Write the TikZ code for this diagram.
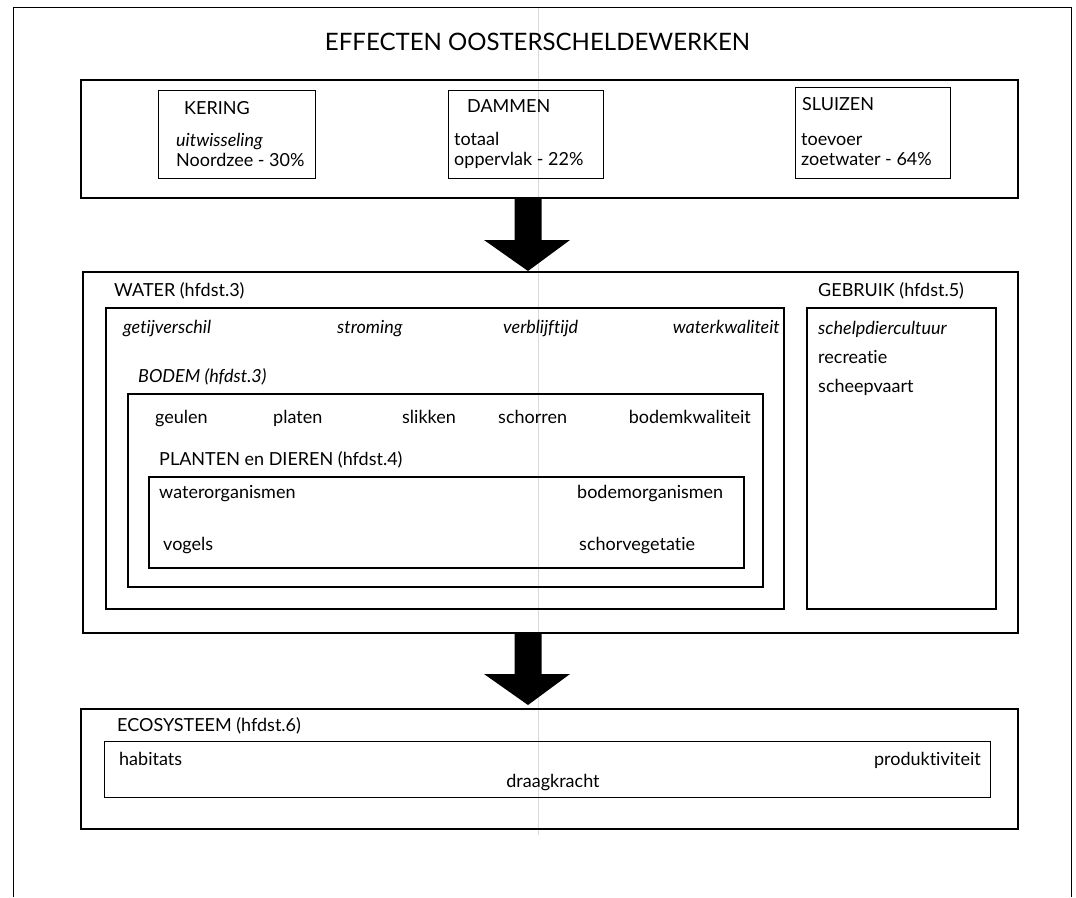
\documentclass[tikz,border=0pt]{standalone}
\usepackage{fontspec}
\setmainfont[Ligatures={NoCommon,NoRare,NoDiscretionary}]{Lato}
\usetikzlibrary{calc}
\begin{document}
\begin{tikzpicture}[x=1pt,y=-1pt,
  frameline/.style={line width=0.8pt},
  bigbox/.style={draw, line width=2pt, inner sep=0pt, anchor=north west},
  nestbox/.style={draw, line width=2.4pt, inner sep=0pt, anchor=north west},
  smallbox/.style={draw, line width=1.2pt, inner sep=0pt, anchor=north west},
  lbl/.style={anchor=base west, inner sep=0pt, font=\fontsize{18}{21}\selectfont},
  ilbl/.style={lbl, font=\fontsize{18}{21}\selectfont\itshape},
  ttl/.style={anchor=base, inner sep=0pt, font=\fontsize{24}{28}\selectfont},
  blockarrow/.style={fill=black}
]
\useasboundingbox (0,0) rectangle (1076,897);
% outer frame (open at bottom)
\coordinate (fbl) at (13,897);
\coordinate (ftl) at (13,7);
\coordinate (ftr) at (1071,7);
\coordinate (fbr) at (1071,897);
\draw[frameline] (fbl) -- (ftl) -- (ftr) -- (fbr);
% faint scan line
\coordinate (sa) at (538,8);
\coordinate (sb) at (538,835);
\draw[gray!30, line width=0.5pt] (sa) -- (sb);

\node[ttl] (title) at (537.5,50) {EFFECTEN OOSTERSCHELDEWERKEN};

% top box
\node[bigbox, minimum width=937, minimum height=118] (top) at (80,79) {};
\node[smallbox, minimum width=157, minimum height=88] (kering) at (158,90) {};
\node[smallbox, minimum width=155, minimum height=88] (dammen) at (448,90) {};
\node[smallbox, minimum width=155, minimum height=91] (sluizen) at (795,87) {};
\node[lbl] (t1) at (184,114) {KERING};
\node[ilbl] (t2) at (176,146) {uitwisseling};
\node[lbl] (t3) at (176,166) {Noordzee - 30\%};
\node[lbl] (t4) at (467,112) {DAMMEN};
\node[lbl] (t5) at (454,145) {totaal};
\node[lbl] (t6) at (454,165) {oppervlak - 22\%};
\node[lbl] (t7) at (802,110) {SLUIZEN};
\node[lbl] (t8) at (801,145) {toevoer};
\node[lbl] (t9) at (801,165) {zoetwater - 64\%};

% middle box
\node[bigbox, minimum width=935, minimum height=361] (mid) at (82,271) {};
\node[lbl] (wlab) at (114,296) {WATER (hfdst.3)};
\node[nestbox, minimum width=678, minimum height=301] (water) at (105,307) {};
\node[ilbl] (w1) at (123,333) {getijverschil};
\node[ilbl] (w2) at (337,333) {stroming};
\node[ilbl] (w3) at (503,333) {verblijftijd};
\node[ilbl, anchor=base east] (w4) at (780,333) {waterkwaliteit};
\node[ilbl] (blab) at (138,382) {BODEM (hfdst.3)};
\node[nestbox, minimum width=635, minimum height=193] (bodem) at (127,393) {};
\node[lbl] (b1) at (155,423) {geulen};
\node[lbl] (b2) at (273,423) {platen};
\node[lbl] (b3) at (402,423) {slikken};
\node[lbl] (b4) at (498,423) {schorren};
\node[lbl, anchor=base east] (b5) at (751,423) {bodemkwaliteit};
\node[lbl] (plab) at (159,465) {PLANTEN en DIEREN (hfdst.4)};
\node[nestbox, minimum width=595, minimum height=91] (planten) at (148,476) {};
\node[lbl] (p1) at (159,498) {waterorganismen};
\node[lbl] (p2) at (577,498) {bodemorganismen};
\node[lbl] (p3) at (163,550) {vogels};
\node[lbl] (p4) at (579,550) {schorvegetatie};
\node[lbl] (glab) at (818,296) {GEBRUIK (hfdst.5)};
\node[nestbox, minimum width=189, minimum height=301] (gebruik) at (806,307) {};
\node[ilbl] (g1) at (818,334) {schelpdiercultuur};
\node[lbl] (g2) at (818,363) {recreatie};
\node[lbl] (g3) at (818,392) {scheepvaart};

% bottom box
\node[bigbox, minimum width=937, minimum height=120] (eco) at (80,708) {};
\node[lbl] (elab) at (117,731) {ECOSYSTEEM (hfdst.6)};
\node[smallbox, minimum width=886, minimum height=56] (ecoin) at (104,741) {};
\node[lbl] (e1) at (119,765) {habitats};
\node[lbl, anchor=base east] (e2) at (981,765) {produktiviteit};
\node[lbl, anchor=base] (e3) at (553,787) {draagkracht};

% block arrows
\coordinate (ax) at (528,0);
\coordinate (a1s) at (top.south -| ax);
\coordinate (a1t) at (mid.north -| ax);
\fill[blockarrow] ($(a1s)+(-13.5,0)$) -- ($(a1t)+(-13.5,-31)$) -- ($(a1t)+(-44,-31)$)
  -- (a1t) -- ($(a1t)+(42,-31)$) -- ($(a1t)+(13.5,-31)$) -- ($(a1s)+(13.5,0)$) -- cycle;
\coordinate (a2s) at (mid.south -| ax);
\coordinate (a2t) at ($(eco.north -| ax)+(0,-3)$);
\fill[blockarrow] ($(a2s)+(-13.5,0)$) -- ($(a2t)+(-13.5,-31)$) -- ($(a2t)+(-44,-31)$)
  -- (a2t) -- ($(a2t)+(42,-31)$) -- ($(a2t)+(13.5,-31)$) -- ($(a2s)+(13.5,0)$) -- cycle;
\end{tikzpicture}
\end{document}
